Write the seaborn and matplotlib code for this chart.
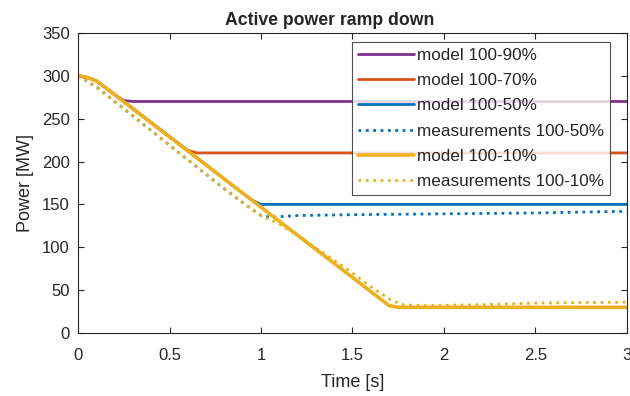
import numpy as np
import pandas as pd
import matplotlib
matplotlib.use('Agg')
import matplotlib.pyplot as plt
import seaborn as sns

# model curves (time [s], power [MW])
t_m90 = [0, 0.05, 0.1, 0.15, 0.2, 0.25, 0.3, 3.0]
p_m90 = [300, 298, 294, 286, 278, 271, 270, 270]

t_m70 = [0, 0.05, 0.1, 0.15, 0.6, 0.65, 3.0]
p_m70 = [300, 298, 294, 286, 213, 210, 210]

t_m50 = [0, 0.05, 0.1, 0.15, 0.95, 1.0, 3.0]
p_m50 = [300, 298, 294, 286, 155, 150, 150]

t_m10 = [0, 0.05, 0.1, 0.15, 1.7, 1.75, 3.0]
p_m10 = [300, 298, 294, 286, 32, 30, 30]

# measurements
t_s50 = [0, 0.1, 0.2, 0.3, 0.4, 0.5, 0.6, 0.7, 0.8, 0.9, 1.0, 1.05, 1.2, 1.5, 2.0, 2.5, 3.0]
p_s50 = [300, 287, 270, 253, 236, 219, 202, 185, 168, 152, 137, 135, 137, 138, 139, 140, 142]

t_s10 = [0, 0.1, 0.2, 0.3, 0.4, 0.5, 0.6, 0.7, 0.8, 0.9, 1.0, 1.1, 1.2, 1.3, 1.4, 1.5,
         1.6, 1.7, 1.77, 1.9, 2.2, 2.5, 3.0]
p_s10 = [300, 287, 270, 253, 236, 219, 202, 185, 168, 152, 137, 127, 114, 99, 85, 70,
         54, 40, 33, 32, 33, 35, 36]

series = [
    ('model 100-90%', t_m90, p_m90, '#7E2F8E', '-', 2.0),
    ('model 100-70%', t_m70, p_m70, '#D95319', '-', 2.0),
    ('model 100-50%', t_m50, p_m50, '#0072BD', '-', 2.0),
    ('measurements 100-50%', t_s50, p_s50, '#0072BD', ':', 2.0),
    ('model 100-10%', t_m10, p_m10, '#EDB120', '-', 2.6),
    ('measurements 100-10%', t_s10, p_s10, '#EDB120', ':', 2.0),
]

sns.set_style('ticks')
plt.rcParams['font.family'] = ['Liberation Sans', 'DejaVu Sans']

fig = plt.figure(figsize=(6.3, 3.96), dpi=100)
ax = fig.add_axes([0.124, 0.159, 0.871, 0.758])

for label, t, p, c, ls, lw in series:
    sns.lineplot(x=t, y=p, ax=ax, color=c, linestyle=ls, linewidth=lw, label=label)

ax.set_xlim(0, 3)
ax.set_ylim(0, 350)
ax.set_xticks([0, 0.5, 1, 1.5, 2, 2.5, 3])
ax.set_xticklabels(['0', '0.5', '1', '1.5', '2', '2.5', '3'])
ax.set_yticks(range(0, 351, 50))
ax.tick_params(direction='in', top=True, right=True, labelsize=12, colors='#262626', length=4)
ax.tick_params(axis='x', pad=11)
ax.tick_params(axis='y', pad=6)
for s in ax.spines.values():
    s.set_color('#262626')
    s.set_linewidth(0.8)

ax.set_title('Active power ramp down', fontsize=12.7, fontweight='bold', pad=6, x=0.459)
ax.set_xlabel('Time [s]', fontsize=13, labelpad=8)
ax.set_ylabel('Power [MW]', fontsize=13, labelpad=6)

leg = ax.legend(loc='upper right', bbox_to_anchor=(0.97, 0.97), borderaxespad=0,
                fontsize=12.3, fancybox=False, handlelength=3.3, labelspacing=0.6,
                handletextpad=0.2, borderpad=0.35)
leg.get_frame().set_edgecolor('#262626')
leg.get_frame().set_linewidth(0.8)

plt.savefig('out.png', dpi=100)
